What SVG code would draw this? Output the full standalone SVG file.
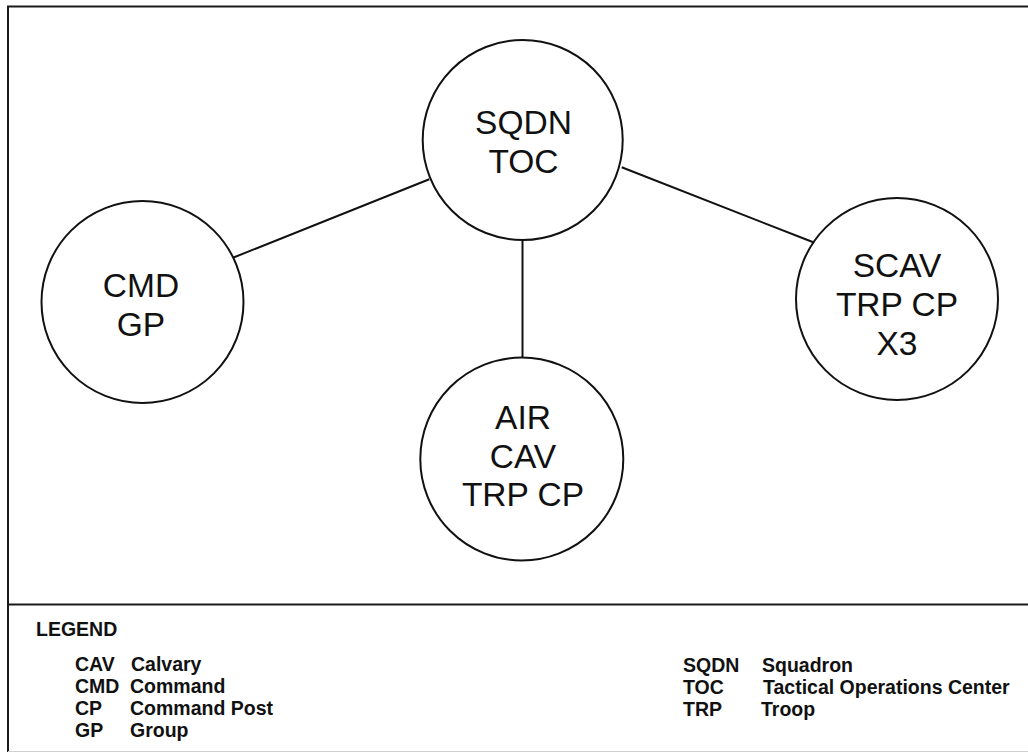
<svg xmlns="http://www.w3.org/2000/svg" width="1028" height="752" viewBox="0 0 1028 752">
<style>
.frame{stroke:#1a1a1a;stroke-width:2;fill:none}
.node circle{fill:#fff;stroke:#111;stroke-width:2}
.node text{font-family:"Liberation Sans",Arial,sans-serif;font-size:33.5px;fill:#111;text-anchor:middle}
.conn line{stroke:#111;stroke-width:2}
.lg{font-family:"Liberation Sans",Arial,sans-serif;font-size:19.5px;font-weight:bold;fill:#111}
</style>
<rect width="1028" height="752" fill="#fff"/>
<line class="frame" x1="7" y1="6.5" x2="1028" y2="6.5"/>
<line class="frame" x1="8" y1="6" x2="8" y2="752"/>
<line class="frame" x1="8" y1="604.5" x2="1028" y2="604.5"/>
<line x1="8" y1="751.5" x2="1028" y2="751.5" stroke="#d0d0d0" stroke-width="1"/>
<g class="conn">
<line x1="429.3" y1="179.3" x2="233.5" y2="257.5"/>
<line x1="621.7" y1="167.3" x2="813.3" y2="242.3"/>
<line x1="522.5" y1="240" x2="522.5" y2="357.5"/>
</g>
<g class="node" id="sqdn-toc">
<circle cx="522.7" cy="140" r="100"/>
<text x="523.5" y="134">SQDN</text>
<text x="523.5" y="173">TOC</text>
</g>
<g class="node" id="cmd-gp">
<circle cx="142.5" cy="302" r="101"/>
<text x="141" y="297">CMD</text>
<text x="141" y="336">GP</text>
</g>
<g class="node" id="scav-trp-cp">
<circle cx="897" cy="299" r="101"/>
<text x="897" y="277">SCAV</text>
<text x="897" y="316">TRP CP</text>
<text x="897" y="355">X3</text>
</g>
<g class="node" id="air-cav-trp-cp">
<circle cx="521.8" cy="459" r="101.5"/>
<text x="523" y="429">AIR</text>
<text x="523" y="467.5">CAV</text>
<text x="523" y="506">TRP CP</text>
</g>
<g id="legend">
<text class="lg" x="36" y="636">LEGEND</text>
<text class="lg" x="75" y="671">CAV</text><text class="lg" x="131" y="671">Calvary</text>
<text class="lg" x="75" y="693">CMD</text><text class="lg" x="130" y="693">Command</text>
<text class="lg" x="75" y="715">CP</text><text class="lg" x="130" y="715">Command Post</text>
<text class="lg" x="75" y="737">GP</text><text class="lg" x="130" y="737">Group</text>
<text class="lg" x="683" y="672">SQDN</text><text class="lg" x="762" y="672">Squadron</text>
<text class="lg" x="683" y="694">TOC</text><text class="lg" x="763" y="694">Tactical Operations Center</text>
<text class="lg" x="683" y="716">TRP</text><text class="lg" x="761" y="716">Troop</text>
</g>
</svg>
